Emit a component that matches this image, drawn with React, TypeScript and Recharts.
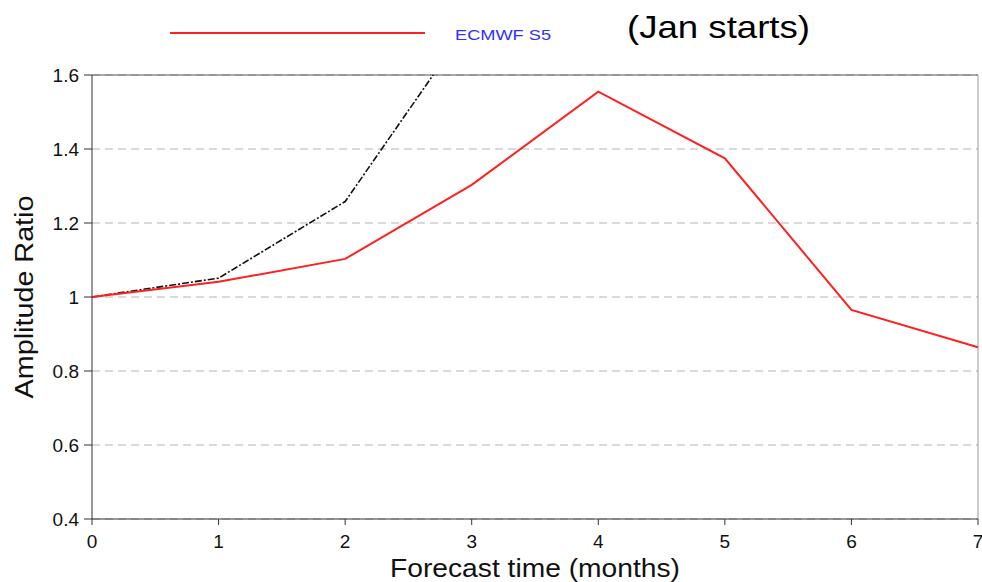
import React from "react";
import {
  CartesianGrid,
  Line,
  LineChart,
  ReferenceLine,
  XAxis,
  YAxis,
} from "recharts";

// forecast lead (months)
const months = [0, 1, 2, 3, 4, 5, 6, 7];
const ecmwfS5 = [1.0, 1.041, 1.103, 1.303, 1.555, 1.375, 0.965, 0.864];
// black dash-dot reference curve, leaves the top of the frame after month 2
const reference = [1.0, 1.051, 1.258, 1.75, null, null, null, null];

const xTicks = [0, 1, 2, 3, 4, 5, 6, 7];
const yTicks = [0.4, 0.6, 0.8, 1, 1.2, 1.4, 1.6];

const data = months.map((m, i) => ({
  month: m,
  ecmwf: ecmwfS5[i],
  ref: reference[i],
}));

const font = "'Liberation Sans', Arial, sans-serif";

function XTick({ x, y, payload }: any) {
  return (
    <text x={x} y={y + 15} textAnchor="middle" fontSize={19} fill="#111" fontFamily={font}>
      {payload.value}
    </text>
  );
}

function YTick({ x, y, payload }: any) {
  return (
    <text x={x} y={y + 7} textAnchor="end" fontSize={19} fill="#111" fontFamily={font}>
      {payload.value}
    </text>
  );
}

// legend strip drawn over the top of the chart
function LegendStrip() {
  return (
    <svg
      width={982}
      height={70}
      style={{ position: "absolute", left: 0, top: 0, pointerEvents: "none" }}
    >
      <line x1={170} x2={425} y1={33} y2={33} stroke="#ff2020" strokeWidth={2} />
      <text
        x={455}
        y={40}
        fontSize={14}
        fill="#3030ff"
        fontFamily={font}
        textLength={96}
        lengthAdjust="spacingAndGlyphs"
      >
        ECMWF S5
      </text>
      <text
        x={627}
        y={38}
        fontSize={32}
        fill="#000"
        fontFamily={font}
        textLength={183}
        lengthAdjust="spacingAndGlyphs"
      >
        (Jan starts)
      </text>
    </svg>
  );
}

export default function App() {
  return (
    <div
      style={{
        position: "absolute",
        left: 0,
        top: 0,
        width: 982,
        height: 582,
        background: "#fff",
      }}
    >
      <LineChart
        width={982}
        height={582}
        data={data}
        margin={{ top: 75, right: 4, bottom: 3, left: 0 }}
      >
        <CartesianGrid vertical={false} stroke="#b4b4b4" strokeDasharray="8 5" />
        <XAxis
          dataKey="month"
          type="number"
          domain={[0, 7]}
          ticks={xTicks}
          height={60}
          stroke="#333"
          tickSize={6}
          tickMargin={8}
          tick={<XTick />}
          label={({ viewBox }: any) => (
            <text
              x={viewBox.x + viewBox.width / 2}
              y={577}
              textAnchor="middle"
              fontSize={25}
              fill="#111"
              fontFamily={font}
              textLength={290}
              lengthAdjust="spacingAndGlyphs"
            >
              Forecast time (months)
            </text>
          )}
        />
        <YAxis
          type="number"
          domain={[0.4, 1.6]}
          allowDataOverflow
          ticks={yTicks}
          width={92}
          stroke="#333"
          tickSize={8}
          tickMargin={5}
          tick={<YTick />}
          label={({ viewBox }: any) => {
            const cx = 33;
            const cy = viewBox.y + viewBox.height / 2;
            return (
              <text
                x={cx}
                y={cy}
                transform={`rotate(-90 ${cx} ${cy})`}
                textAnchor="middle"
                fontSize={25}
                fill="#111"
                fontFamily={font}
                textLength={203}
                lengthAdjust="spacingAndGlyphs"
              >
                Amplitude Ratio
              </text>
            );
          }}
        />
        <ReferenceLine y={1.6} stroke="#555" strokeWidth={1} />
        <ReferenceLine x={7} stroke="#999" strokeWidth={1} />
        <Line
          dataKey="ref"
          stroke="#111"
          strokeWidth={1.6}
          strokeDasharray="7 2 2 2"
          dot={false}
          connectNulls={false}
          isAnimationActive={false}
        />
        <Line
          dataKey="ecmwf"
          stroke="#ff2020"
          strokeWidth={2}
          dot={false}
          isAnimationActive={false}
        />
      </LineChart>
      <LegendStrip />
    </div>
  );
}
